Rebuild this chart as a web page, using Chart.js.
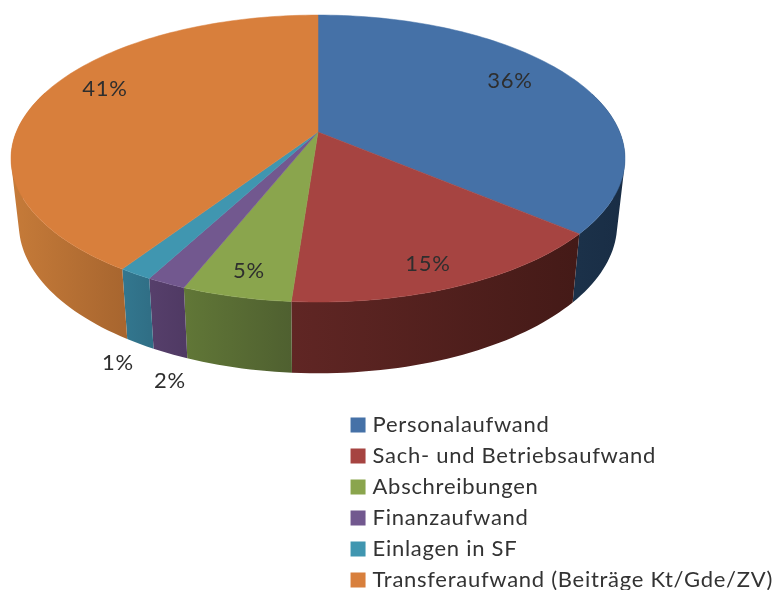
<!DOCTYPE html>
<html>
<head>
<meta charset="utf-8">
<script src="https://cdn.jsdelivr.net/npm/chart.js@4"></script>
<style>
  html, body { margin: 0; background: #fff; overflow: hidden; }
  canvas { display: block; filter: blur(0.7px); }
</style>
</head>
<body>
<canvas id="chart" width="775" height="590"></canvas>
<script>
const categories = [
  "Personalaufwand",
  "Sach- und Betriebsaufwand",
  "Abschreibungen",
  "Finanzaufwand",
  "Einlagen in SF",
  "Transferaufwand (Beiträge Kt/Gde/ZV)",
];
const values = [36.2, 14.95, 4.85, 1.75, 1.49, 40.76];

const topColors = ["#4571a7", "#a64441", "#8aa54d", "#72588f", "#4096b0", "#d87f3c"];
const wallLeft = ["#1b3149", "#602624", "#617737", "#563f6b", "#33778f", "#c67b39"];
const wallRight = ["#192d45", "#441a17", "#4f6030", "#503a64", "#306f86", "#a8662f"];

// where the percent labels sit, same order as categories
const labelSpots = [[510, 81], [428, 264], [249, 271], [170, 381], [118, 363], [105, 89]];

// perspective of the tilted disc, fitted to the picture
const tilt = 0.185;
const topPlane = { x: 318, y: 132, a: 301.7, b: 138.6 };
const bottomPlane = { x: 318, y: 196.6, a: 294, b: 144 };

function project(angle, plane) {
  const u = Math.cos(angle);
  const v = Math.sin(angle);
  const w = 1 - tilt * v;
  return { x: plane.x + plane.a * u / w, y: plane.y + plane.b * v / w };
}

function sampleAngles(start, end) {
  const out = [];
  const steps = Math.max(4, Math.ceil((end - start) * 40));
  for (let i = 0; i <= steps; i++) out.push(start + (end - start) * i / steps);
  return out;
}

function signedArea(pts) {
  let sum = 0;
  pts.forEach((p, j) => {
    const q = pts[(j + 1) % pts.length];
    sum += p.x * q.y - q.x * p.y;
  });
  return sum;
}

function addPoly(ctx, pts) {
  pts.forEach((p, j) => (j ? ctx.lineTo(p.x, p.y) : ctx.moveTo(p.x, p.y)));
  ctx.closePath();
}

function paintPath(ctx, paint) {
  ctx.fillStyle = paint;
  ctx.strokeStyle = paint;
  ctx.lineWidth = 0.5;
  ctx.fill();
  ctx.stroke();
}

const disc3d = {
  id: "disc3d",
  beforeUpdate(chart) {
    // the canvas setup resets the context, so the spacing goes on here
    chart.ctx.letterSpacing = "0.72px";
  },
  beforeDatasetsDraw(chart) {
    const ctx = chart.ctx;
    const arcs = chart.getDatasetMeta(0).data;

    // side walls: all quads in one path, same winding, so no seams show
    arcs.forEach((arc, i) => {
      const angles = sampleAngles(arc.startAngle, arc.endAngle).filter((a) => Math.sin(a) > -0.3);
      const front = angles.filter((a) => Math.sin(a) > 0.15).map((a) => project(a, topPlane).x);
      if (front.length < 2) return;
      const g = ctx.createLinearGradient(Math.min(...front), 0, Math.max(...front), 0);
      g.addColorStop(0, wallLeft[i]);
      g.addColorStop(1, wallRight[i]);
      ctx.beginPath();
      for (let j = 0; j < angles.length - 1; j++) {
        const quad = [
          project(angles[j], topPlane),
          project(angles[j + 1], topPlane),
          project(angles[j + 1], bottomPlane),
          project(angles[j], bottomPlane),
        ];
        addPoly(ctx, signedArea(quad) < 0 ? quad.reverse() : quad);
      }
      ctx.fillStyle = g;
      ctx.fill();
    });

    // top face
    arcs.forEach((arc, i) => {
      const rim = sampleAngles(arc.startAngle, arc.endAngle).map((a) => project(a, topPlane));
      ctx.beginPath();
      addPoly(ctx, [{ x: topPlane.x, y: topPlane.y }].concat(rim));
      paintPath(ctx, topColors[i]);
    });

    ctx.fillStyle = "#2e2e2e";
    ctx.font = "22px Lato";
    ctx.textAlign = "center";
    ctx.textBaseline = "middle";
    values.forEach((v, i) => {
      ctx.fillText(Math.round(v) + "%", labelSpots[i][0], labelSpots[i][1]);
    });
    return false;
  },
};

new Chart(document.getElementById("chart"), {
  type: "pie",
  data: {
    labels: categories,
    datasets: [{ data: values, backgroundColor: topColors, borderWidth: 0 }],
  },
  plugins: [disc3d],
  options: {
    responsive: false,
    animation: false,
    layout: { padding: { right: -8, bottom: -10 } },
    plugins: {
      tooltip: { enabled: false },
      legend: {
        position: "right",
        align: "end",
        maxWidth: 460,
        labels: {
          usePointStyle: true,
          pointStyle: "rect",
          boxWidth: 7,
          boxHeight: 15,
          padding: 9,
          color: "#333333",
          font: { family: "Lato", size: 22 },
        },
      },
    },
  },
});
</script>
</body>
</html>
